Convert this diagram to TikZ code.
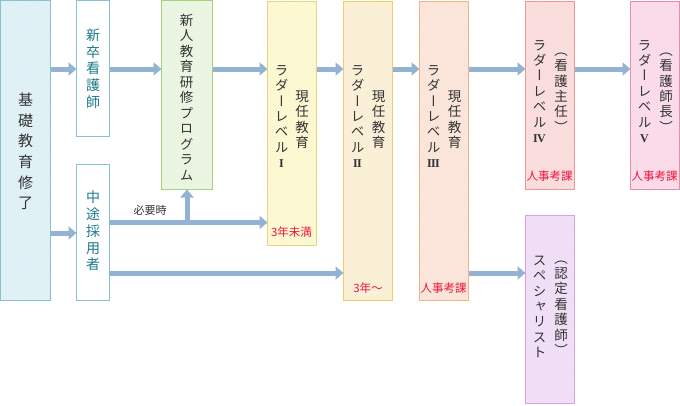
\documentclass[tikz,border=0pt]{standalone}
\usepackage{fontspec}
\setmainfont{Noto Sans CJK JP}
\newfontfamily\jpv{Noto Sans CJK JP}[RawFeature=+vert]
\newfontfamily\jp{Noto Sans CJK JP}
\newfontfamily\rn{Liberation Serif}
\usetikzlibrary{arrows.meta,patterns}
\definecolor{arrowc}{HTML}{94B3D3}
\definecolor{txt}{HTML}{333333}
\definecolor{teal}{HTML}{1D7B8C}
\definecolor{redt}{HTML}{F0143C}
\definecolor{bBase}{HTML}{86C3CF}\definecolor{fBase}{HTML}{E6F4F8}\definecolor{hBase}{HTML}{D6ECF2}
\definecolor{bNew}{HTML}{A6D27A}\definecolor{fNew}{HTML}{F0F8E8}\definecolor{hNew}{HTML}{E2F1D6}
\definecolor{bL1}{HTML}{E6D77A}\definecolor{fL1}{HTML}{FFFCD8}\definecolor{hL1}{HTML}{F6F0C4}
\definecolor{bL2}{HTML}{F2CC66}\definecolor{fL2}{HTML}{FDF4DE}\definecolor{hL2}{HTML}{F6E8C8}
\definecolor{bL3}{HTML}{F0B486}\definecolor{fL3}{HTML}{FDEAE0}\definecolor{hL3}{HTML}{F6DCCE}
\definecolor{bL4}{HTML}{EE9696}\definecolor{fL4}{HTML}{FDE3E3}\definecolor{hL4}{HTML}{F6D2D2}
\definecolor{bL5}{HTML}{E58CB0}\definecolor{fL5}{HTML}{FDE2EE}\definecolor{hL5}{HTML}{F6D0E0}
\definecolor{bSp}{HTML}{D6A2E6}\definecolor{fSp}{HTML}{F4E4F9}\definecolor{hSp}{HTML}{EAD4F2}
\tikzset{
  boxs/.style n args={3}{draw=#1, line width=1pt, inner sep=0pt, outer sep=0pt,
    anchor=north west, preaction={fill=#2}, pattern=north east lines, pattern color=#3},
  plainbox/.style={draw=bBase, line width=1pt, inner sep=0pt, outer sep=0pt, anchor=north west, fill=white},
  vcol/.style={inner sep=0pt, outer sep=0pt, align=center, text=txt,
    font=\jpv\fontsize{13.5}{15.4}\selectfont},
  redlab/.style={inner sep=0pt, text=redt, font=\jp\fontsize{11.5}{13}\selectfont},
  arr/.style={draw=arrowc, line width=5pt, -{Triangle[length=8pt,width=13pt]}},
  stem/.style={draw=arrowc, line width=5pt}
}
\newcommand{\rI}{{\rn\bfseries\fontsize{12}{15.4}\selectfont I}}
\newcommand{\rII}{{\rn\bfseries\fontsize{12}{15.4}\selectfont I\kern-0.6ptI}}
\newcommand{\rIII}{{\rn\bfseries\fontsize{12}{15.4}\selectfont I\kern-0.6ptI\kern-0.6ptI}}
\newcommand{\rIV}{{\rn\bfseries\fontsize{12}{15.4}\selectfont I\kern-0.8ptV}}
\newcommand{\rV}{{\rn\bfseries\fontsize{12}{15.4}\selectfont V}}
\begin{document}
\begin{tikzpicture}[x=1pt,y=-1pt]
\useasboundingbox (0,0) rectangle (680,405);
% boxes
\node[boxs={bBase}{fBase}{hBase}, minimum width=50pt, minimum height=300pt] (base) at (0.5,0.5) {};
\node[plainbox, minimum width=33pt, minimum height=136pt] (shin) at (76.5,0.5) {};
\node[plainbox, minimum width=33pt, minimum height=136pt] (chuto) at (76.5,164.5) {};
\node[boxs={bNew}{fNew}{hNew}, minimum width=51pt, minimum height=189pt] (kensyu) at (161.5,0.5) {};
\node[boxs={bL1}{fL1}{hL1}, minimum width=49pt, minimum height=244pt] (l1) at (267.5,1) {};
\node[boxs={bL2}{fL2}{hL2}, minimum width=49pt, minimum height=299pt] (l2) at (343.5,1) {};
\node[boxs={bL3}{fL3}{hL3}, minimum width=49pt, minimum height=299pt] (l3) at (419.5,1) {};
\node[boxs={bL4}{fL4}{hL4}, minimum width=49pt, minimum height=188pt] (l4) at (525.5,1) {};
\node[boxs={bL5}{fL5}{hL5}, minimum width=49pt, minimum height=188pt] (l5) at (630.5,1) {};
\node[boxs={bSp}{fSp}{hSp}, minimum width=49pt, minimum height=188pt] (sp) at (525.5,215.5) {};
% texts
\node[vcol, font=\jpv\fontsize{15}{20.6}\selectfont] (tbase) at (25.5,151.5) {基\\礎\\教\\育\\修\\了};
\node[vcol, text=teal, font=\jpv\fontsize{14}{16.8}\selectfont] (tshin) at (93,68.5) {新\\卒\\看\\護\\師};
\node[vcol, text=teal, font=\jpv\fontsize{14}{16.8}\selectfont] (tchuto) at (93,231) {中\\途\\採\\用\\者};
\node[vcol, font=\jpv\fontsize{13.5}{15.5}\selectfont] (tkensyu) at (186.5,97.5) {新\\人\\教\\育\\研\\修\\プ\\ロ\\グ\\ラ\\ム};
\node[vcol] (t1a) at (281.5,116.5) {ラ\\ダ\\ー\\レ\\ベ\\ル\\\rI};
\node[vcol] (t1b) at (302,119.5) {現\\任\\教\\育};
\node[vcol] (t2a) at (357.5,116.5) {ラ\\ダ\\ー\\レ\\ベ\\ル\\\rII};
\node[vcol] (t2b) at (378.5,119.5) {現\\任\\教\\育};
\node[vcol] (t3a) at (433.5,116.5) {ラ\\ダ\\ー\\レ\\ベ\\ル\\\rIII};
\node[vcol] (t3b) at (454.5,119.5) {現\\任\\教\\育};
\node[vcol] (t4a) at (539.5,91.5) {ラ\\ダ\\ー\\レ\\ベ\\ル\\\rIV};
\node[vcol] (t4b) at (561,92.5) {（\\看\\護\\主\\任\\）};
\node[vcol] (t5a) at (644.5,91.5) {ラ\\ダ\\ー\\レ\\ベ\\ル\\\rV};
\node[vcol] (t5b) at (666,92.5) {（\\看\\護\\師\\長\\）};
\node[vcol] (tspa) at (539.5,307) {ス\\ペ\\シ\\ャ\\リ\\ス\\ト};
\node[vcol] (tspb) at (561,308) {（\\認\\定\\看\\護\\師\\）};
% red labels
\node[redlab] (r1) at (291.5,232.5) {3年未満};
\node[redlab] (r2) at (368,288) {3年〜};
\node[redlab] (r3) at (443.5,288) {人事考課};
\node[redlab] (r4) at (549.5,176) {人事考課};
\node[redlab] (r5) at (654.5,176) {人事考課};
\node[inner sep=0pt, text=txt, font=\jp\fontsize{11}{13}\selectfont] (need) at (150,210) {必要時};
% row coordinates
\coordinate (ytop) at (0,69);
\coordinate (ymid) at (0,233);
\coordinate (yneed) at (0,222.5);
\coordinate (ylow) at (0,273);
\coordinate (br) at (187,222.5);
% arrows
\draw[arr] (base.east |- ytop) -- (shin.west |- ytop);
\draw[arr] (base.east |- ymid) -- (chuto.west |- ymid);
\draw[arr] (shin.east |- ytop) -- (kensyu.west |- ytop);
\draw[arr] (kensyu.east |- ytop) -- (l1.west |- ytop);
\draw[arr] (l1.east |- ytop) -- (l2.west |- ytop);
\draw[arr] (l2.east |- ytop) -- (l3.west |- ytop);
\draw[arr] (l3.east |- ytop) -- (l4.west |- ytop);
\draw[arr] (l4.east |- ytop) -- (l5.west |- ytop);
\draw[arr] (chuto.east |- yneed) -- (l1.west |- yneed);
\draw[arr] ([yshift=2pt]br) -- (br |- kensyu.south);
\draw[arr] (chuto.east |- ylow) -- (l2.west |- ylow);
\draw[arr] (l3.east |- ylow) -- (sp.west |- ylow);
\end{tikzpicture}
\end{document}
